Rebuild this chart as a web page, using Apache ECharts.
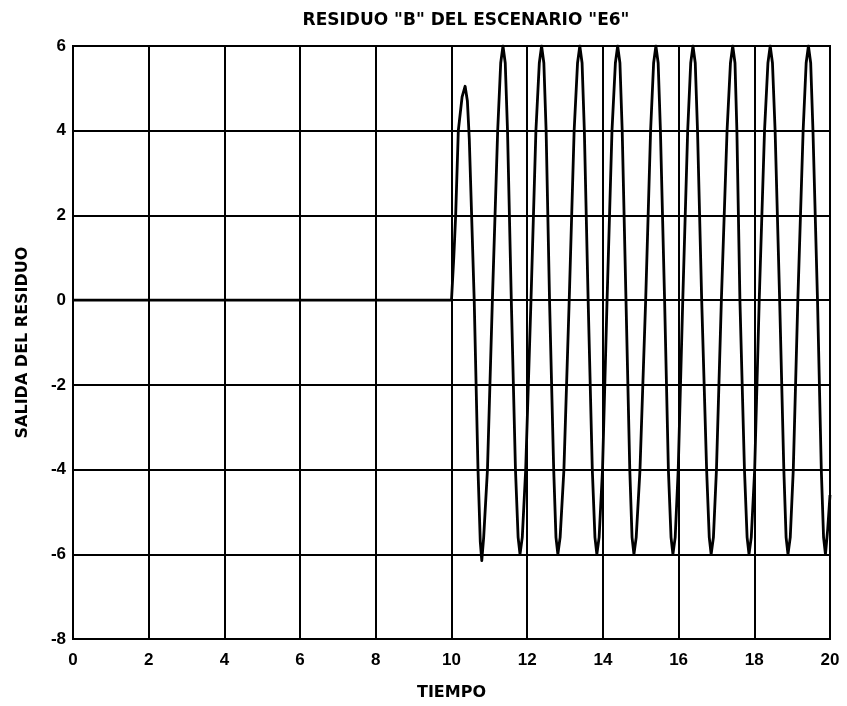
<!DOCTYPE html>
<html>
<head>
<meta charset="utf-8">
<script src="https://cdn.jsdelivr.net/npm/echarts@6/dist/echarts.min.js"></script>
<style>
html,body{margin:0;padding:0;background:#fff;}
#chart{width:847px;height:706px;}
</style>
</head>
<body>
<div id="chart"></div>
<script>
// Data
var titleText = 'RESIDUO "B" DEL ESCENARIO "E6"';
var xName = 'TIEMPO';
var yName = 'SALIDA DEL RESIDUO';
var xTicks = [0, 2, 4, 6, 8, 10, 12, 14, 16, 18, 20];
var yTicks = [-8, -6, -4, -2, 0, 2, 4, 6];

var tiempo = [
  0, 10.0, 10.06, 10.11, 10.18, 10.28, 10.36, 10.42, 10.47, 10.6, 10.7, 10.76, 10.8,
  10.85, 10.95, 11.08, 11.22, 11.30, 11.36, 11.42, 11.48, 11.58, 11.69, 11.76, 11.81,
  11.87, 11.96, 12.10, 12.23, 12.32, 12.38, 12.44, 12.50, 12.59, 12.70, 12.76, 12.81,
  12.87, 12.97, 13.11, 13.24, 13.33, 13.39, 13.45, 13.51, 13.61, 13.72, 13.79, 13.84,
  13.90, 13.99, 14.11, 14.24, 14.33, 14.39, 14.45, 14.51, 14.61, 14.71, 14.77, 14.82,
  14.88, 14.98, 15.13, 15.26, 15.34, 15.40, 15.46, 15.52, 15.63, 15.73, 15.80, 15.85,
  15.91, 15.99, 16.11, 16.24, 16.32, 16.38, 16.44, 16.50, 16.61, 16.74, 16.81, 16.86,
  16.92, 17.00, 17.13, 17.28, 17.37, 17.43, 17.49, 17.54, 17.62, 17.74, 17.81, 17.86,
  17.92, 18.01, 18.13, 18.27, 18.36, 18.42, 18.48, 18.55, 18.67, 18.78, 18.84, 18.89,
  18.95, 19.03, 19.15, 19.29, 19.37, 19.43, 19.49, 19.55, 19.67, 19.77, 19.83, 19.88,
  19.94, 20.0
];
var residuo = [
  0, 0, 1, 2, 4, 4.8, 5.05, 4.7, 3.8, 0, -4, -5.7, -6.15,
  -5.6, -4, 0, 4, 5.6, 6, 5.6, 4, 0, -4, -5.6, -6,
  -5.6, -4, 0, 4, 5.6, 6, 5.6, 4, 0, -4, -5.6, -6,
  -5.6, -4, 0, 4, 5.6, 6, 5.6, 4, 0, -4, -5.6, -6,
  -5.6, -4, 0, 4, 5.6, 6, 5.6, 4, 0, -4, -5.6, -6,
  -5.6, -4, 0, 4, 5.6, 6, 5.6, 4, 0, -4, -5.6, -6,
  -5.6, -4, 0, 4, 5.6, 6, 5.6, 4, 0, -4, -5.6, -6,
  -5.6, -4, 0, 4, 5.6, 6, 5.6, 4, 0, -4, -5.6, -6,
  -5.6, -4, 0, 4, 5.6, 6, 5.6, 4, 0, -4, -5.6, -6,
  -5.6, -4, 0, 4, 5.6, 6, 5.6, 4, 0, -4, -5.6, -6,
  -5.4, -4.6
];

var seriesData = tiempo.map(function (t, i) { return [t, residuo[i]]; });

var chart = echarts.init(document.getElementById('chart'), null, {renderer: 'canvas'});
var labelFont = '"Liberation Sans", Arial, Helvetica, sans-serif';
var nameFont = '"DejaVu Sans", "Liberation Sans", Arial, sans-serif';
chart.setOption({
  backgroundColor: '#ffffff',
  animation: false,
  title: {
    text: titleText,
    left: 461,
    top: 7,
    textAlign: 'center',
    textStyle: {fontFamily: nameFont, fontWeight: 'bold', fontSize: 17, color: '#000'}
  },
  grid: {
    left: 73, right: 17, top: 46, bottom: 64,
    show: true, borderColor: '#000', borderWidth: 2, backgroundColor: '#fff'
  },
  xAxis: {
    type: 'value',
    min: xTicks[0], max: xTicks[xTicks.length - 1], interval: 2,
    name: xName, nameLocation: 'middle', nameGap: 46,
    nameTextStyle: {fontFamily: nameFont, fontWeight: 'bold', fontSize: 16, color: '#000'},
    axisLine: {show: true, lineStyle: {color: '#000', width: 2}},
    axisTick: {show: false},
    axisLabel: {fontFamily: labelFont, fontWeight: 'bold', fontSize: 17, color: '#000', margin: 13},
    splitLine: {show: true, lineStyle: {color: '#000', width: 2}}
  },
  yAxis: {
    type: 'value',
    min: yTicks[0], max: yTicks[yTicks.length - 1], interval: 2,
    name: yName, nameLocation: 'middle', nameGap: 42,
    nameTextStyle: {fontFamily: nameFont, fontWeight: 'bold', fontSize: 16, color: '#000'},
    axisLine: {show: true, lineStyle: {color: '#000', width: 2}},
    axisTick: {show: false},
    axisLabel: {fontFamily: labelFont, fontWeight: 'bold', fontSize: 17, color: '#000', margin: 7},
    splitLine: {show: true, lineStyle: {color: '#000', width: 2}}
  },
  series: [{
    type: 'line',
    data: seriesData,
    showSymbol: false,
    smooth: false,
    clip: true,
    lineStyle: {color: '#000', width: 2.8, join: 'round'},
    z: 3
  }]
});
</script>
</body>
</html>
